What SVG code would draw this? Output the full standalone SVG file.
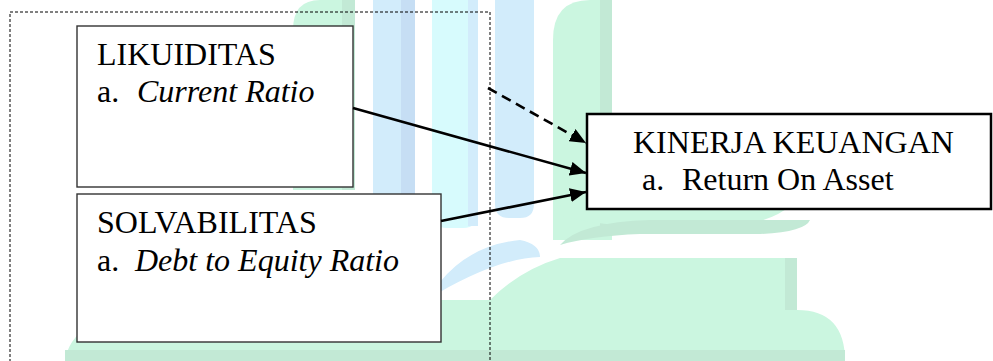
<svg xmlns="http://www.w3.org/2000/svg" width="993" height="361" viewBox="0 0 993 361">
<style>
.t{font-family:"Liberation Serif","Times New Roman",serif;font-size:32px;fill:#000}
.i{font-style:italic}
.box{fill:#fff;stroke:#333;stroke-width:1.4}
.kbox{fill:#fff;stroke:#000;stroke-width:2.5}
.con{stroke:#000;stroke-width:2.6;fill:none}
.g{fill:#cbf6e0}
.gd{fill:#c2e9d5}
.b{fill:#d2ecfb}
.bd{fill:#c6def4}
.c{fill:#d7fbfd}
</style>
<defs>
<marker id="ah" markerUnits="userSpaceOnUse" markerWidth="18" markerHeight="14" refX="16" refY="7" orient="auto">
<path d="M0,0 L16,7 L0,14 z" fill="#000"/>
</marker>
</defs>
<g id="watermark">
<path class="g" d="M293,190 L293,30 Q293,0 320,0 L355,0 L355,190 z"/>
<rect class="gd" x="342" y="0" width="13" height="190"/>
<path class="b" d="M373,0 L415,0 L415,212 Q415,228 400,228 L388,228 Q373,228 373,212 z"/>
<rect class="bd" x="401" y="0" width="14" height="226"/>
<path class="c" d="M432,0 L478,0 L478,212 Q478,228 463,228 L447,228 Q432,228 432,212 z"/>
<rect class="b" x="468" y="0" width="10" height="226"/>
<path class="b" d="M495,0 L534,0 L534,204 Q534,218 520,218 L509,218 Q495,218 495,204 z"/>
<path class="g" d="M553,240 L553,40 Q553,0 590,0 L612,0 L612,240 z"/>
<rect class="gd" x="600" y="0" width="12" height="236"/>
<path class="g" d="M553,212 Q575,190 640,186 L800,186 Q798,215 740,226 Q650,230 590,222 Q565,218 553,212 z"/>
<path class="gd" d="M560,245 Q580,222 650,220 L810,220 Q805,232 760,234 L640,234 Q590,236 560,245 z"/>
<path class="b" d="M440,282 Q470,245 520,240 Q540,244 540,257 Q500,258 440,292 z"/>
<path class="g" d="M65,361 Q70,320 150,300 L490,300 Q520,270 560,258 L797,258 L797,310 Q845,310 845,361 z"/>
<rect class="gd" x="785" y="258" width="12" height="52"/>
<rect class="gd" x="65" y="350" width="780" height="11"/>
</g>
<rect x="10" y="12" width="480" height="360" fill="none" stroke="#000" stroke-width="1" stroke-dasharray="3,2"/>
<g id="likuiditas">
<rect class="box" x="77" y="26" width="276" height="161"/>
<text class="t" x="97" y="65">LIKUIDITAS</text>
<text class="t" y="102"><tspan x="97">a.</tspan><tspan x="137" class="i">Current Ratio</tspan></text>
</g>
<g id="solvabilitas">
<rect class="box" x="77" y="194" width="364" height="148"/>
<text class="t" x="97" y="233">SOLVABILITAS</text>
<text class="t" y="271"><tspan x="97">a.</tspan><tspan x="135" class="i">Debt to Equity Ratio</tspan></text>
</g>
<g id="kinerja">
<rect class="kbox" x="587" y="114" width="404" height="95"/>
<text class="t" x="633" y="153">KINERJA KEUANGAN</text>
<text class="t" y="190"><tspan x="642">a.</tspan><tspan x="682">Return On Asset</tspan></text>
</g>
<g id="connectors">
<line class="con" x1="488" y1="88" x2="586" y2="143" stroke-dasharray="10,6" marker-end="url(#ah)"/>
<line class="con" x1="353" y1="108" x2="586" y2="173" marker-end="url(#ah)"/>
<line class="con" x1="441" y1="221" x2="586" y2="192" marker-end="url(#ah)"/>
</g>
</svg>
